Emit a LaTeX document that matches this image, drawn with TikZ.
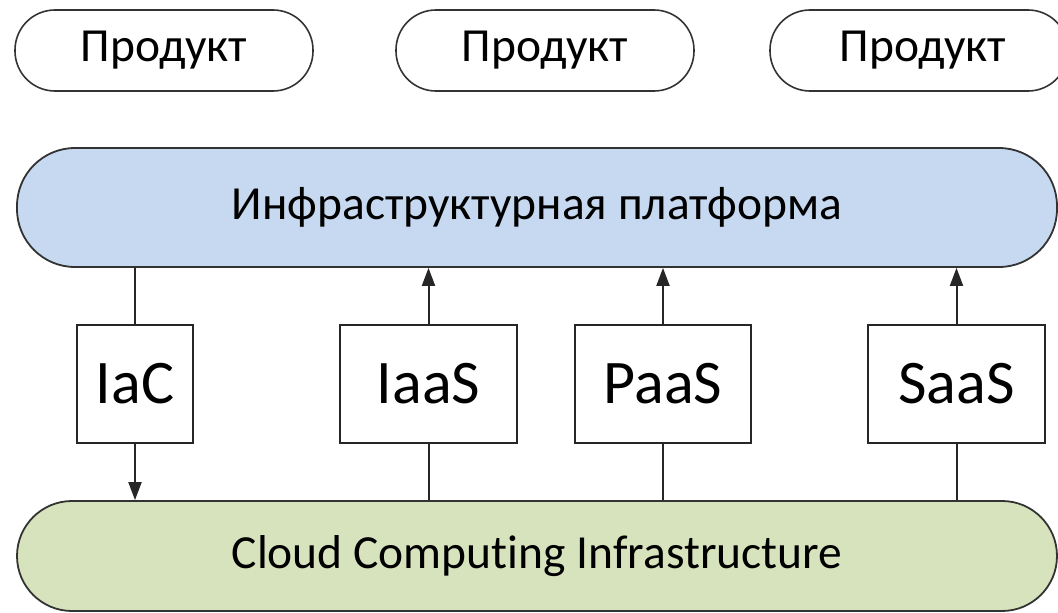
\documentclass[tikz,border=0pt]{standalone}
\usepackage{fontspec}
\setmainfont[Ligatures={NoCommon}]{Carlito}
\usetikzlibrary{arrows.meta}
\definecolor{platblue}{HTML}{C6D9F0}
\definecolor{cloudgreen}{HTML}{D7E3BD}
\tikzset{
  prod/.style={draw=black!80, line width=1.6pt, rounded corners=40pt, minimum width=298pt, minimum height=81pt, inner sep=0pt, font=\fontsize{47.5}{52}\selectfont},
  layer/.style={draw=black!80, line width=1.8pt, rounded corners=58pt, minimum width=1040pt, inner sep=0pt, font=\fontsize{47.5}{52}\selectfont},
  svc/.style={draw=black!85, line width=1.8pt, minimum height=118pt, inner sep=0pt, font=\fontsize{62}{68}\selectfont},
  conn/.style={draw=black!85, line width=2pt},
  arr/.style={conn, -{Triangle[length=18pt,width=13pt]}}
}
\begin{document}
\begin{tikzpicture}[x=1pt,y=-1pt]
\useasboundingbox (0,0) rectangle (1058,613);
\node[prod] (p1) at (164,50.5) {Продукт};
\node[prod] (p2) at (545,50.5) {Продукт};
\node[prod] (p3) at (919,50.5) {\hspace*{8pt}Продукт};
\node[layer, fill=platblue, minimum height=119pt] (plat) at (537,207.5) {Инфраструктурная платформа};
\node[layer, fill=cloudgreen, minimum height=110pt, rounded corners=55pt] (cloud) at (537,556) {Cloud Computing Infrastructure};
\node[svc, minimum width=116pt] (iac) at (135,384) {IaC};
\node[svc, minimum width=177pt] (iaas) at (428.5,384) {IaaS};
\node[svc, minimum width=176pt] (paas) at (663,384) {PaaS};
\node[svc, minimum width=177pt] (saas) at (956.5,384) {SaaS};
\draw[conn] (plat.south -| iac.north) -- (iac.north);
\draw[arr] (iac.south) -- (cloud.north -| iac.south);
\draw[arr] (iaas.north) -- (plat.south -| iaas.north);
\draw[arr] (paas.north) -- (plat.south -| paas.north);
\draw[arr] (saas.north) -- (plat.south -| saas.north);
\draw[conn] (iaas.south) -- (cloud.north -| iaas.south);
\draw[conn] (paas.south) -- (cloud.north -| paas.south);
\draw[conn] (saas.south) -- (cloud.north -| saas.south);
\end{tikzpicture}
\end{document}
